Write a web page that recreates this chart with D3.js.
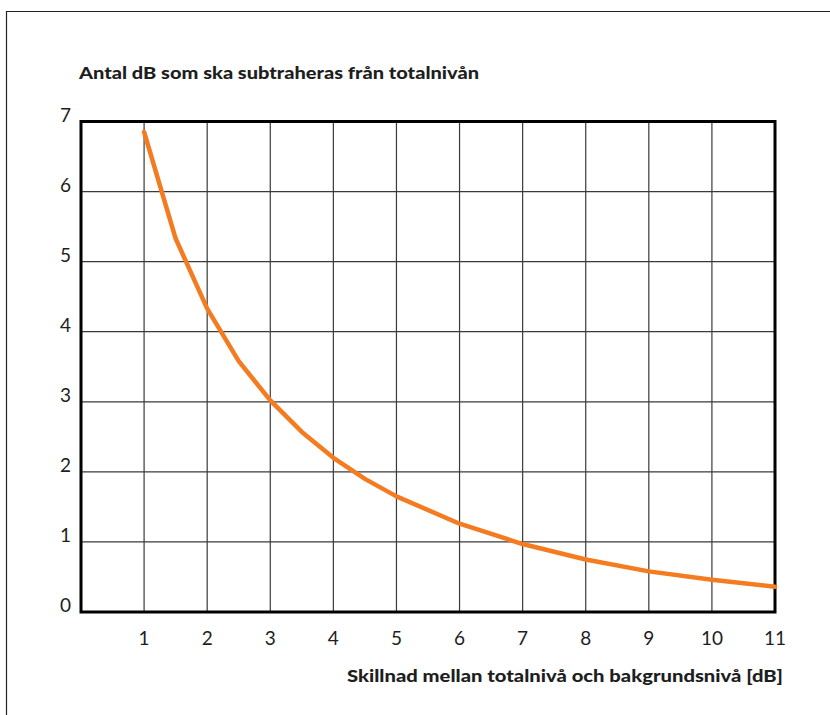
<!DOCTYPE html>
<html lang="sv">
<head>
<meta charset="UTF-8">
<title>Antal dB som ska subtraheras</title>
<style>
  body { margin: 0; background: #fff; }
  text { font-family: Lato, "Open Sans", sans-serif; fill: #1e1e1e; }
</style>
</head>
<body>
<script src="https://d3js.org/d3.v7.min.js"></script>
<div id="chart"></div>
<script>
// data
const diffs = [1, 1.5, 2, 2.5, 3, 3.5, 4, 4.5, 5, 6, 7, 8, 9, 10, 11];
const subtract = [6.85, 5.33, 4.33, 3.58, 3.02, 2.57, 2.2, 1.9, 1.65, 1.26, 0.97, 0.75, 0.58, 0.46, 0.36];
const xTicks = [1, 2, 3, 4, 5, 6, 7, 8, 9, 10, 11];
const yTicks = [0, 1, 2, 3, 4, 5, 6, 7];
const title = "Antal dB som ska subtraheras från totalnivån";
const xTitle = "Skillnad mellan totalnivå och bakgrundsnivå [dB]";

const W = 830, H = 715;
const svg = d3.select("#chart").append("svg")
  .attr("width", W).attr("height", H);

// outer frame (only left and top visible)
svg.append("path")
  .attr("d", `M6.5,${H} V11.5 H${W}`)
  .attr("fill", "none")
  .attr("stroke", "#222")
  .attr("stroke-width", 1.2);

const x = d3.scaleLinear().domain([0, 11]).range([81, 775]);
const y = d3.scaleLinear().domain([0, 7]).range([612, 121.5]);

// grid
svg.append("g")
  .selectAll("line")
  .data(xTicks)
  .join("line")
    .attr("x1", d => x(d)).attr("x2", d => x(d))
    .attr("y1", y(0)).attr("y2", y(7))
    .attr("stroke", "#3a3a3a")
    .attr("stroke-width", 1.2);
svg.append("g")
  .selectAll("line")
  .data(yTicks.slice(1, -1))
  .join("line")
    .attr("x1", x(0)).attr("x2", x(11))
    .attr("y1", d => y(d)).attr("y2", d => y(d))
    .attr("stroke", "#3a3a3a")
    .attr("stroke-width", 1.2);

// thick plot border
svg.append("rect")
  .attr("x", x(0)).attr("y", y(7))
  .attr("width", x(11) - x(0))
  .attr("height", y(0) - y(7))
  .attr("fill", "none")
  .attr("stroke", "#000")
  .attr("stroke-width", 3);

// y labels sit on their gridline
svg.append("g")
  .selectAll("text")
  .data(yTicks)
  .join("text")
    .attr("x", 71)
    .attr("y", d => y(d))
    .attr("text-anchor", "end")
    .style("font-size", "19px")
    .text(d => d);

// x labels
svg.append("g")
  .selectAll("text")
  .data(xTicks)
  .join("text")
    .attr("x", d => x(d))
    .attr("y", 645)
    .attr("text-anchor", "middle")
    .style("font-size", "19px")
    .text(d => d);

// curve
const line = d3.line()
  .x((d, i) => x(diffs[i]))
  .y(d => y(d));
svg.append("path")
  .datum(subtract)
  .attr("d", line)
  .attr("fill", "none")
  .attr("stroke", "#f47b20")
  .attr("stroke-width", 4.5)
  .attr("stroke-linejoin", "round")
  .attr("stroke-linecap", "round");

// titles
svg.append("text")
  .attr("x", 79).attr("y", 79)
  .style("font-size", "17.5px")
  .style("font-weight", 900)
  .attr("textLength", 400)
  .attr("lengthAdjust", "spacingAndGlyphs")
  .text(title);

svg.append("text")
  .attr("x", 783).attr("y", 682)
  .attr("text-anchor", "end")
  .style("font-size", "17.5px")
  .style("font-weight", 900)
  .attr("textLength", 436)
  .attr("lengthAdjust", "spacingAndGlyphs")
  .text(xTitle);
</script>
</body>
</html>
